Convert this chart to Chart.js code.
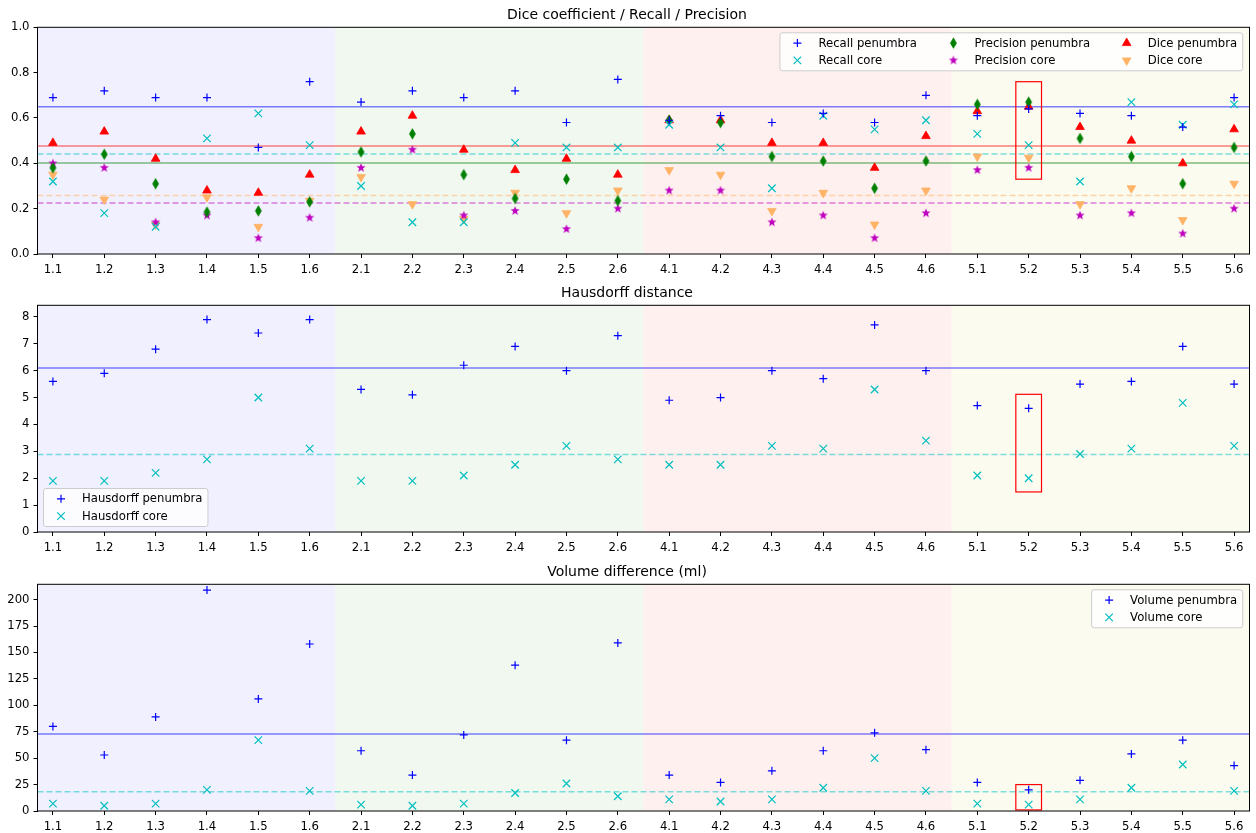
<!DOCTYPE html>
<html>
<head>
<meta charset="utf-8">
<script src="https://cdn.jsdelivr.net/npm/chart.js@4.4.0/dist/chart.umd.min.js"></script>
<style>
  body { margin: 0; background: #fff; overflow: hidden; }
  canvas { position: absolute; left: 0; }
</style>
</head>
<body>
<canvas id="dice" width="1256" height="278" style="top:0"></canvas>
<canvas id="hausdorff" width="1256" height="278" style="top:278px"></canvas>
<canvas id="volume" width="1256" height="276" style="top:557px"></canvas>
<script>
// categories (case.slice)
const categories = ["1.1", "1.2", "1.3", "1.4", "1.5", "1.6", "2.1", "2.2", "2.3", "2.4", "2.5", "2.6",
  "4.1", "4.2", "4.3", "4.4", "4.5", "4.6", "5.1", "5.2", "5.3", "5.4", "5.5", "5.6"];

// Dice / Recall / Precision
const recallPenumbra = [0.69, 0.72, 0.69, 0.69, 0.47, 0.76, 0.67, 0.72, 0.69, 0.72, 0.58, 0.77,
  0.59, 0.61, 0.58, 0.62, 0.58, 0.70, 0.61, 0.64, 0.62, 0.61, 0.56, 0.69];
const recallCore = [0.32, 0.18, 0.12, 0.51, 0.62, 0.48, 0.30, 0.14, 0.14, 0.49, 0.47, 0.47,
  0.57, 0.47, 0.29, 0.61, 0.55, 0.59, 0.53, 0.48, 0.32, 0.67, 0.57, 0.66];
const precisionPenumbra = [0.38, 0.44, 0.31, 0.185, 0.19, 0.23, 0.45, 0.53, 0.35, 0.245, 0.33, 0.235,
  0.59, 0.58, 0.43, 0.41, 0.29, 0.41, 0.66, 0.67, 0.51, 0.43, 0.31, 0.47];
const precisionCore = [0.40, 0.38, 0.14, 0.17, 0.07, 0.16, 0.38, 0.46, 0.17, 0.19, 0.11, 0.20,
  0.28, 0.28, 0.14, 0.17, 0.07, 0.18, 0.37, 0.38, 0.17, 0.18, 0.09, 0.20];
const dicePenumbra = [0.49, 0.54, 0.42, 0.28, 0.27, 0.35, 0.54, 0.61, 0.46, 0.37, 0.42, 0.35,
  0.59, 0.59, 0.49, 0.49, 0.38, 0.52, 0.63, 0.65, 0.56, 0.50, 0.40, 0.55];
const diceCore = [0.35, 0.24, 0.13, 0.25, 0.12, 0.235, 0.34, 0.22, 0.155, 0.27, 0.18, 0.28,
  0.37, 0.35, 0.19, 0.27, 0.13, 0.28, 0.43, 0.425, 0.22, 0.29, 0.15, 0.31];
// means: recall pen, recall core, precision pen, precision core, dice pen, dice core
const diceMeans = [0.649, 0.441, 0.401, 0.225, 0.476, 0.258];

// Hausdorff distance
const hausdorffPenumbra = [5.6, 5.9, 6.8, 7.9, 7.4, 7.9, 5.3, 5.1, 6.2, 6.9, 6.0, 7.3,
  4.9, 5.0, 6.0, 5.7, 7.7, 6.0, 4.7, 4.6, 5.5, 5.6, 6.9, 5.5];
const hausdorffCore = [1.9, 1.9, 2.2, 2.7, 5.0, 3.1, 1.9, 1.9, 2.1, 2.5, 3.2, 2.7,
  2.5, 2.5, 3.2, 3.1, 5.3, 3.4, 2.1, 2.0, 2.9, 3.1, 4.8, 3.2];
const hausdorffMeans = [6.1, 2.88];

// Volume difference (ml)
const volumePenumbra = [80, 53, 89, 209, 106, 158, 57, 34, 72, 138, 67, 159,
  34, 27, 38, 57, 74, 58, 27, 20, 29, 54, 67, 43];
const volumeCore = [7, 5, 7, 20, 67, 19, 6, 5, 7, 17, 26, 14,
  11, 9, 11, 22, 50, 19, 7, 6, 11, 22, 44, 19];
const volumeMeans = [72.9, 18.2];

// tick labels / axis ranges
const diceTicks = [0, 0.2, 0.4, 0.6, 0.8, 1.0];
const hausdorffTicks = [0, 1, 2, 3, 4, 5, 6, 7, 8];
const volumeTicks = [0, 25, 50, 75, 100, 125, 150, 175, 200];
const diceMax = 1.0, hausdorffMax = 8.43, volumeMax = 214.5;

// groups and highlighted case
const groupEdges = [-0.5, 5.5, 11.5, 17.5, 23.5];
const highlightCase = "5.2";
const diceBox = [0.33, 0.76];
const hausdorffBox = [1.49, 5.12];
const volumeBox = [1, 25];

const FONT = '"DejaVu Sans", "Liberation Sans", sans-serif';
Chart.defaults.font.family = FONT;
Chart.defaults.font.size = 11.67;
Chart.defaults.color = "#000";

const bandColors = ["rgba(0,0,255,0.06)", "rgba(0,128,0,0.06)", "rgba(255,0,0,0.06)", "rgba(191,191,0,0.06)"];
const xMin = -0.3, xMax = 23.3;

function makeStar(color, r) {
  const c = document.createElement("canvas");
  const s = Math.ceil(r * 2 + 2);
  c.width = c.height = s;
  const g = c.getContext("2d");
  g.fillStyle = color;
  g.beginPath();
  for (let k = 0; k < 10; k++) {
    const rr = k % 2 ? r * 0.42 : r;
    const a = -Math.PI / 2 + (k * Math.PI) / 5;
    g.lineTo(s / 2 + rr * Math.cos(a), s / 2 + rr * Math.sin(a));
  }
  g.closePath();
  g.fill();
  return c;
}

function makeDiamond(color, w, h) {
  const c = document.createElement("canvas");
  c.width = Math.ceil(w + 2);
  c.height = Math.ceil(h + 2);
  const g = c.getContext("2d");
  const cx = c.width / 2, cy = c.height / 2;
  g.fillStyle = color;
  g.beginPath();
  g.moveTo(cx, cy - h / 2);
  g.lineTo(cx + w / 2, cy);
  g.lineTo(cx, cy + h / 2);
  g.lineTo(cx - w / 2, cy);
  g.closePath();
  g.fill();
  return c;
}

const plusStyle = (color) => ({ pointStyle: "cross", pointRadius: 4, pointBorderWidth: 1.2, pointBorderColor: color, pointBackgroundColor: color });
const xStyle = (color) => ({ pointStyle: "crossRot", pointRadius: 5.3, pointBorderWidth: 1.2, pointBorderColor: color, pointBackgroundColor: color });
const triStyle = (color, rot) => ({ pointStyle: "triangle", pointRadius: 5, pointRotation: rot, pointBorderWidth: 0.8, pointBorderColor: color, pointBackgroundColor: color });

const BLUE = "#0000ff", CYAN = "#00bfbf", GREEN = "#008000", MAGENTA = "#bf00bf", RED = "#ff0000", ORANGE = "#ffb366";

function points(label, values, style) {
  return Object.assign({ type: "scatter", label, inLegend: true, order: 1,
    data: values.map((y, x) => ({ x, y })) }, style);
}

function meanLine(value, color, dashed) {
  return { type: "line", data: [{ x: xMin, y: value }, { x: xMax, y: value }],
    borderColor: color, borderWidth: 1.5, borderDash: dashed ? [6, 3] : [],
    pointRadius: 0, order: 5 };
}

const bandPlugin = {
  id: "bands",
  beforeDatasetsDraw(chart) {
    const { ctx, chartArea: a } = chart;
    const x = chart.scales.x;
    ctx.save();
    ctx.beginPath();
    ctx.rect(a.left, a.top, a.right - a.left, a.bottom - a.top);
    ctx.clip();
    for (let i = 0; i < groupEdges.length - 1; i++) {
      const l = x.getPixelForValue(groupEdges[i]);
      const r = x.getPixelForValue(groupEdges[i + 1]);
      ctx.fillStyle = bandColors[i];
      ctx.fillRect(l, a.top, r - l, a.bottom - a.top);
    }
    ctx.restore();
  },
};

const highlightPlugin = {
  id: "highlight",
  afterDatasetsDraw(chart, args, opts) {
    const { ctx } = chart;
    const x = chart.scales.x, y = chart.scales.y;
    const i = categories.indexOf(highlightCase);
    const l = x.getPixelForValue(i - 0.25), r = x.getPixelForValue(i + 0.25);
    const t = y.getPixelForValue(opts.range[1]), b = y.getPixelForValue(opts.range[0]);
    ctx.save();
    ctx.strokeStyle = RED;
    ctx.lineWidth = 1.2;
    ctx.strokeRect(l, t, r - l, b - t);
    ctx.restore();
  },
};

const legendPlugin = {
  id: "insetLegend",
  afterDatasetsDraw(chart, args, o) {
    const items = chart.data.datasets.filter((d) => d.inLegend);
    const { ctx, chartArea: a } = chart;
    ctx.save();
    ctx.font = "11.67px " + FONT;
    const rows = o.rows;
    const cols = Math.ceil(items.length / rows);
    const colW = [];
    for (let c = 0; c < cols; c++) {
      let w = 0;
      for (let r = 0; r < rows; r++) {
        const it = items[c * rows + r];
        if (it) w = Math.max(w, ctx.measureText(it.label).width);
      }
      colW.push(w);
    }
    const markOff = 17.5, textOff = 38.5, colGap = 19, padR = 5.5, rowH = 17.3, padT = 10.3, padB = 10.4;
    const boxW = colW.reduce((s, w) => s + textOff + w, 0) + colGap * (cols - 1) + padR;
    const boxH = padT + (rows - 1) * rowH + padB;
    const left = o.corner[1] === "r" ? a.right - 6.8 - boxW : a.left + 6;
    const top = o.corner[0] === "t" ? a.top + 5.5 : a.bottom - 5.5 - boxH;

    ctx.fillStyle = "rgba(255,255,255,0.8)";
    ctx.strokeStyle = "#cccccc";
    ctx.lineWidth = 1;
    ctx.beginPath();
    if (ctx.roundRect) ctx.roundRect(left, top, boxW, boxH, 2.5);
    else ctx.rect(left, top, boxW, boxH);
    ctx.fill();
    ctx.stroke();

    let cx = left;
    for (let c = 0; c < cols; c++) {
      for (let r = 0; r < rows; r++) {
        const it = items[c * rows + r];
        if (!it) continue;
        const yy = top + padT + r * rowH;
        ctx.fillStyle = it.pointBackgroundColor;
        ctx.strokeStyle = it.pointBorderColor || it.pointBackgroundColor;
        ctx.lineWidth = it.pointBorderWidth || 1;
        Chart.helpers.drawPoint(ctx, {
          pointStyle: it.pointStyle, radius: it.pointRadius,
          rotation: it.pointRotation || 0, borderWidth: it.pointBorderWidth || 0,
        }, cx + markOff, yy);
        ctx.fillStyle = "#000";
        ctx.textBaseline = "middle";
        ctx.textAlign = "left";
        ctx.fillText(it.label, cx + textOff, yy + 0.5);
      }
      cx += textOff + colW[c] + colGap;
    }
    ctx.restore();
  },
};

const framePlugin = {
  id: "frame",
  afterDraw(chart) {
    const { ctx, chartArea: a } = chart;
    ctx.save();
    ctx.strokeStyle = "#000";
    ctx.lineWidth = 1;
    ctx.strokeRect(a.left, a.top, a.right - a.left, a.bottom - a.top);
    ctx.restore();
  },
};

function buildChart(id, title, datasets, yTicks, yMax, yFormat, box, legend, xHeight) {
  return new Chart(document.getElementById(id), {
    type: "scatter",
    data: { datasets },
    options: {
      responsive: false,
      devicePixelRatio: 1,
      animation: false,
      events: [],
      layout: { padding: { left: 0, right: 2, top: 0, bottom: 0 } },
      scales: {
        x: {
          type: "linear", min: xMin, max: xMax,
          afterBuildTicks: (s) => { s.ticks = categories.map((c, i) => ({ value: i })); },
          afterFit: (s) => { s.height = xHeight; },
          ticks: { autoSkip: false, maxRotation: 0, padding: 5, color: "#000",
            callback: (v) => categories[Math.round(v)] },
          grid: { drawOnChartArea: false, tickLength: 4, color: "#000" },
          border: { display: false },
        },
        y: {
          min: 0, max: yMax,
          afterBuildTicks: (s) => { s.ticks = yTicks.map((v) => ({ value: v })); },
          afterFit: (s) => { s.width = 37.5; },
          ticks: { padding: 4, color: "#000", callback: yFormat },
          grid: { drawOnChartArea: false, tickLength: 4, color: "#000" },
          border: { display: false },
        },
      },
      plugins: {
        legend: { display: false },
        tooltip: { enabled: false },
        title: { display: true, text: title, color: "#000",
          font: { size: 14, weight: "normal" }, padding: { top: 6.6, bottom: 3.9 } },
        highlight: { range: box },
        insetLegend: legend,
      },
    },
    plugins: [bandPlugin, highlightPlugin, legendPlugin, framePlugin],
  });
}

buildChart("dice", "Dice coefficient / Recall / Precision", [
  points("Recall penumbra", recallPenumbra, plusStyle(BLUE)),
  points("Recall core", recallCore, xStyle(CYAN)),
  points("Precision penumbra", precisionPenumbra, { pointStyle: makeDiamond(GREEN, 6.8, 11.5), pointRadius: 5, pointBackgroundColor: GREEN, pointBorderColor: GREEN }),
  points("Precision core", precisionCore, { pointStyle: makeStar(MAGENTA, 4.8), pointRadius: 5, pointBackgroundColor: MAGENTA, pointBorderColor: MAGENTA }),
  points("Dice penumbra", dicePenumbra, triStyle(RED, 0)),
  points("Dice core", diceCore, triStyle(ORANGE, 180)),
  meanLine(diceMeans[0], "rgba(0,0,255,0.5)", false),
  meanLine(diceMeans[1], "rgba(0,191,191,0.5)", true),
  meanLine(diceMeans[2], "rgba(0,128,0,0.5)", false),
  meanLine(diceMeans[3], "rgba(191,0,191,0.5)", true),
  meanLine(diceMeans[4], "rgba(255,0,0,0.5)", false),
  meanLine(diceMeans[5], "rgba(255,179,102,0.55)", true),
], diceTicks, diceMax, (v) => v.toFixed(1), diceBox, { corner: "tr", rows: 2 }, 24);

buildChart("hausdorff", "Hausdorff distance", [
  points("Hausdorff penumbra", hausdorffPenumbra, plusStyle(BLUE)),
  points("Hausdorff core", hausdorffCore, xStyle(CYAN)),
  meanLine(hausdorffMeans[0], "rgba(0,0,255,0.5)", false),
  meanLine(hausdorffMeans[1], "rgba(0,191,191,0.5)", true),
], hausdorffTicks, hausdorffMax, (v) => String(v), hausdorffBox, { corner: "bl", rows: 2 }, 24);

buildChart("volume", "Volume difference (ml)", [
  points("Volume penumbra", volumePenumbra, plusStyle(BLUE)),
  points("Volume core", volumeCore, xStyle(CYAN)),
  meanLine(volumeMeans[0], "rgba(0,0,255,0.5)", false),
  meanLine(volumeMeans[1], "rgba(0,191,191,0.5)", true),
], volumeTicks, volumeMax, (v) => String(v), volumeBox, { corner: "tr", rows: 2 }, 22);
</script>
</body>
</html>
